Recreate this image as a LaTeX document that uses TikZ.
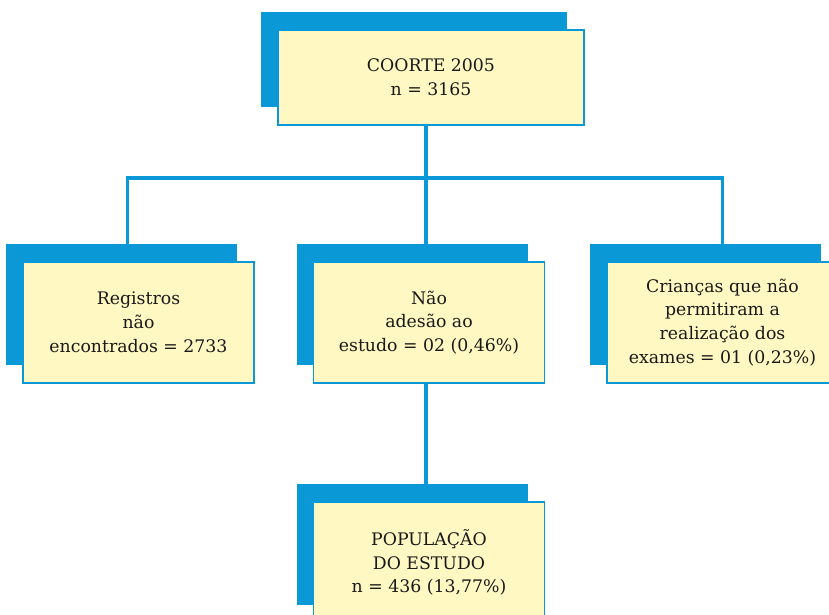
\documentclass[tikz,border=0pt]{standalone}
\usepackage{fontspec}
\setmainfont{DejaVu Serif}
\usetikzlibrary{positioning, shadows}
\pgfdeclarelayer{background}
\pgfsetlayers{background,main}
\definecolor{flowblue}{HTML}{0A98D6}
\definecolor{flowcream}{HTML}{FFF8C2}

\begin{document}
\begin{tikzpicture}[x=1pt, y=-1pt,
	box/.style={draw=flowblue, line width=1.5pt, fill=flowcream, align=center,
		minimum width=231pt, minimum height=121pt, inner sep=0pt,
		font=\fontsize{17.3}{23.8}\selectfont, text=black!90,
		general shadow={fill=flowblue, shadow xshift=-17pt, shadow yshift=18pt}},
	link/.style={draw=flowblue, line width=3.3pt}]
	\useasboundingbox (0,0) rectangle (829,614);
	\node[box, minimum width=306pt, minimum height=95pt] (coorte) at (431,77.5) {COORTE 2005\\n = 3165};
	\node[box] (reg) at (138.5,322.5) {Registros\\não\\encontrados = 2733};
	\node[box] (adesao) at (429,322.5) {Não\\adesão ao\\estudo = 02 (0,46\%)};
	\node[box] (crianca) at (722.5,322.5) {Crianças que não\\permitiram a\\realização dos\\exames = 01 (0,23\%)};
	\node[box] (pop) at (429,562.5) {POPULAÇÃO\\DO ESTUDO\\n = 436 (13,77\%)};
	\coordinate (bus) at (426,178);
	\begin{pgfonlayer}{background}
	\draw[link] (bus |- coorte.center) -- (bus |- pop.center);
	\draw[link] ([xshift=-11pt]reg.center) |- (bus) -| (crianca.center);
	\end{pgfonlayer}
\end{tikzpicture}
\end{document}
